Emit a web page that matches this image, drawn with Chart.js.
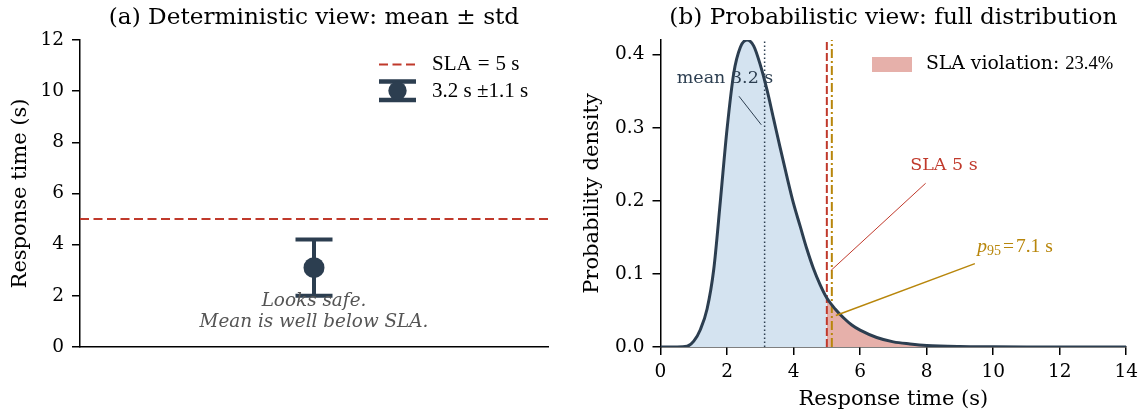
<!DOCTYPE html>
<html>
<head>
<meta charset="utf-8">
<script src="https://cdn.jsdelivr.net/npm/chart.js@4.4.0/dist/chart.umd.min.js"></script>
<style>
  html, body { margin: 0; padding: 0; background: #fff; }
  #wrap { position: relative; width: 1144px; height: 414px; }
  canvas { position: absolute; top: 0; }
  #left { left: 0; }
  #right { left: 572px; }
</style>
</head>
<body>
<div id="wrap">
  <canvas id="left" width="572" height="414"></canvas>
  <canvas id="right" width="572" height="414"></canvas>
</div>
<script>
// --- data: left panel (mean +- std)
const slaSeconds = 5;
const pointMean = 3.1;
const pointLow = 2.0;
const pointHigh = 4.2;
const leftTicks = [0, 2, 4, 6, 8, 10, 12];

// --- data: right panel (density)
const densX = [0, 0.5, 0.8, 1.0, 1.2, 1.4, 1.6, 1.8, 2.0, 2.2, 2.4, 2.6, 2.8, 3.0, 3.2, 3.4, 3.6, 3.8, 4.0, 4.2, 4.4, 4.6, 4.8, 5.0, 5.25, 5.5, 5.75, 6.0, 6.5, 7.0, 7.5, 8.0, 9.0, 10.0, 11.0, 12.0, 13.0, 14.0];
const densY = [0, 0, 0.001, 0.008, 0.024, 0.052, 0.106, 0.200, 0.298, 0.374, 0.410, 0.420, 0.412, 0.386, 0.352, 0.312, 0.272, 0.233, 0.196, 0.165, 0.134, 0.107, 0.085, 0.067, 0.052, 0.040, 0.030, 0.023, 0.013, 0.007, 0.0042, 0.0022, 0.0007, 0.0003, 0.0001, 0, 0, 0];
const meanX = 3.13;
const p95X = 5.15;
const xTicks = [0, 2, 4, 6, 8, 10, 12, 14];
const yTicks = [0, 0.1, 0.2, 0.3, 0.4];
const violationPct = 23.4;

const FONT = "'DejaVu Serif', serif";
const MATH = "'Liberation Serif', serif";
const NAVY = '#2c3e50';
const RED = '#c0392b';
const GOLD = '#b8860b';
const TICK = 18.5;
const LABEL = 21;

// matplotlib-like title, centred over the plot area
const axesTitle = {
  id: 'axesTitle',
  afterDraw(chart, args, opts) {
    const { ctx, chartArea } = chart;
    ctx.save();
    ctx.fillStyle = '#000';
    ctx.font = '23.2px ' + FONT;
    ctx.textAlign = 'center';
    ctx.textBaseline = 'middle';
    ctx.fillText(opts.text, (chartArea.left + chartArea.right) / 2, 18);
    ctx.restore();
  }
};

// error bar drawn with the chart's own scales
const errorBarPlugin = {
  id: 'errorBar',
  beforeDatasetsDraw(chart) {
    const { ctx, scales: { x, y } } = chart;
    const px = x.getPixelForValue(0);
    const lo = y.getPixelForValue(pointLow), hi = y.getPixelForValue(pointHigh);
    ctx.save();
    ctx.strokeStyle = NAVY;
    ctx.lineWidth = 4;
    ctx.beginPath();
    ctx.moveTo(px, lo); ctx.lineTo(px, hi);
    ctx.moveTo(px - 18.5, lo); ctx.lineTo(px + 18.5, lo);
    ctx.moveTo(px - 18.5, hi); ctx.lineTo(px + 18.5, hi);
    ctx.stroke();
    ctx.restore();
  }
};

const leftNotes = {
  id: 'leftNotes',
  afterDraw(chart) {
    const { ctx, chartArea, scales: { x } } = chart;
    ctx.save();
    // italic note
    ctx.fillStyle = '#555';
    ctx.font = 'italic 18.4px ' + FONT;
    ctx.textAlign = 'center';
    ctx.textBaseline = 'middle';
    const cx = x.getPixelForValue(0);
    ctx.fillText('Looks safe.', cx, 301);
    ctx.fillText('Mean is well below SLA.', cx, 322);

    // legend
    const lx = chartArea.right - 169;
    ctx.strokeStyle = RED;
    ctx.lineWidth = 2;
    ctx.setLineDash([9, 4.5]);
    ctx.beginPath(); ctx.moveTo(lx, 64.5); ctx.lineTo(lx + 37, 64.5); ctx.stroke();
    ctx.setLineDash([]);
    ctx.strokeStyle = NAVY;
    ctx.lineWidth = 4.5;
    ctx.beginPath();
    ctx.moveTo(lx, 81.5); ctx.lineTo(lx + 37, 81.5);
    ctx.moveTo(lx, 100); ctx.lineTo(lx + 37, 100);
    ctx.moveTo(lx + 18.5, 81.5); ctx.lineTo(lx + 18.5, 100);
    ctx.stroke();
    ctx.fillStyle = NAVY;
    ctx.beginPath(); ctx.arc(lx + 18.5, 90.7, 9.2, 0, Math.PI * 2); ctx.fill();

    ctx.fillStyle = '#000';
    ctx.textAlign = 'left';
    ctx.font = '21px ' + MATH;
    let tx = lx + 53;
    ctx.fillText('SLA', tx, 64.5); tx += ctx.measureText('SLA').width + 6;
    ctx.fillText('=', tx, 64.5); tx += ctx.measureText('=').width + 6;
    ctx.fillText('5 s', tx, 64.5);
    ctx.fillText('3.2 s \u00b11.1 s', lx + 53, 91);
    ctx.restore();
  }
};

new Chart(document.getElementById('left'), {
  type: 'line',
  data: {
    datasets: [
      {
        data: [{ x: -1, y: slaSeconds }, { x: 1, y: slaSeconds }],
        borderColor: RED, borderWidth: 2, borderDash: [9, 4.5], pointRadius: 0
      },
      {
        data: [{ x: 0, y: pointMean }],
        showLine: false, pointRadius: 10.5, pointBackgroundColor: NAVY, pointBorderWidth: 0
      }
    ]
  },
  options: {
    responsive: false, animation: false, events: [],
    layout: { padding: { left: 0, right: 24, top: 40, bottom: 0 } },
    plugins: {
      legend: { display: false }, tooltip: { enabled: false }, title: { display: false },
      axesTitle: { text: '(a) Deterministic view: mean \u00b1 std' }
    },
    scales: {
      x: {
        type: 'linear', min: -1, max: 1,
        ticks: { display: false }, grid: { display: false },
        border: { display: true, color: '#000', width: 1.5 },
        afterFit: s => { s.height = 67; }
      },
      y: {
        min: 0, max: 12,
        afterBuildTicks: s => { s.ticks = leftTicks.map(v => ({ value: v })); },
        ticks: { font: { family: FONT, size: TICK }, color: '#000', padding: 8 },
        grid: { drawOnChartArea: false, color: '#000', lineWidth: 1.5, tickLength: 8 },
        border: { color: '#000', width: 1.5 },
        title: { display: true, text: 'Response time (s)', color: '#000', font: { family: FONT, size: LABEL }, padding: { top: 8, bottom: 0 } },
        afterFit: s => { s.width = 80; }
      }
    }
  },
  plugins: [axesTitle, errorBarPlugin, leftNotes]
});

// right panel
const pts = densX.map((x, i) => ({ x: x, y: densY[i] }));
const yTop = 0.42;

const rightNotes = {
  id: 'rightNotes',
  afterDatasetDraw(chart, args) {
    if (args.index !== 0) return;
    const { ctx, scales: { x, y } } = chart;
    ctx.save();
    ctx.fillStyle = NAVY;
    ctx.font = '17.5px ' + FONT;
    ctx.textAlign = 'center';
    ctx.textBaseline = 'middle';
    ctx.fillText('mean 3.2 s', x.getPixelForValue(1.94), y.getPixelForValue(0.367));
    ctx.strokeStyle = NAVY;
    ctx.lineWidth = 1;
    ctx.beginPath();
    ctx.moveTo(x.getPixelForValue(2.36), y.getPixelForValue(0.343));
    ctx.lineTo(x.getPixelForValue(3.03), y.getPixelForValue(0.304));
    ctx.stroke();
    ctx.restore();
  },
  afterDatasetsDraw(chart) {
    const { ctx, scales: { x, y } } = chart;
    ctx.save();
    ctx.textBaseline = 'middle';
    // SLA label
    ctx.strokeStyle = RED;
    ctx.lineWidth = 1;
    ctx.beginPath();
    ctx.moveTo(x.getPixelForValue(7.97), y.getPixelForValue(0.224));
    ctx.lineTo(x.getPixelForValue(5.13), y.getPixelForValue(0.105));
    ctx.stroke();
    ctx.fillStyle = RED;
    ctx.font = '17.5px ' + FONT;
    ctx.textAlign = 'center';
    ctx.fillText('SLA 5 s', x.getPixelForValue(8.52), y.getPixelForValue(0.248));
    // p95 label
    ctx.strokeStyle = GOLD;
    ctx.lineWidth = 1.5;
    ctx.beginPath();
    ctx.moveTo(x.getPixelForValue(9.45), y.getPixelForValue(0.114));
    ctx.lineTo(x.getPixelForValue(5.27), y.getPixelForValue(0.043));
    ctx.stroke();
    ctx.fillStyle = GOLD;
    ctx.textAlign = 'left';
    ctx.textBaseline = 'alphabetic';
    let tx = x.getPixelForValue(9.52);
    const ty = 251.7;
    ctx.font = 'italic 19.5px ' + MATH;
    ctx.fillText('p', tx, ty); tx += ctx.measureText('p').width;
    ctx.font = '14px ' + MATH;
    ctx.fillText('95', tx, ty + 3); tx += ctx.measureText('95').width + 2;
    ctx.font = '19.5px ' + MATH;
    ctx.fillText('=', tx, ty); tx += ctx.measureText('=').width + 2;
    ctx.fillText('7.1 s', tx, ty);

    // legend
    ctx.fillStyle = '#e6b0aa';
    ctx.fillRect(300, 57, 40, 15);
    ctx.fillStyle = '#000';
    ctx.textBaseline = 'middle';
    ctx.font = '18.8px ' + FONT;
    const lab = 'SLA violation: ';
    ctx.fillText(lab, 354, 64);
    const w = ctx.measureText(lab).width;
    ctx.font = '18.6px ' + MATH;
    ctx.fillText(violationPct.toFixed(1) + '%', 354 + w, 64);
    ctx.restore();
  }
};

new Chart(document.getElementById('right'), {
  type: 'line',
  data: {
    datasets: [
      {
        data: pts.filter(p => p.x <= slaSeconds), fill: 'origin', backgroundColor: '#d4e3f0',
        borderColor: 'transparent', borderWidth: 0, pointRadius: 0, cubicInterpolationMode: 'monotone', order: 6
      },
      {
        data: pts.filter(p => p.x >= slaSeconds), fill: 'origin', backgroundColor: '#e6b0aa',
        borderColor: 'transparent', borderWidth: 0, pointRadius: 0, cubicInterpolationMode: 'monotone', order: 5
      },
      {
        data: [{ x: meanX, y: 0 }, { x: meanX, y: yTop }],
        borderColor: NAVY, borderWidth: 1.5, borderDash: [1.5, 2.5], pointRadius: 0, order: 4
      },
      {
        data: [{ x: slaSeconds, y: 0 }, { x: slaSeconds, y: yTop }],
        borderColor: RED, borderWidth: 2, borderDash: [8, 3], pointRadius: 0, order: 3
      },
      {
        data: [{ x: p95X, y: 0 }, { x: p95X, y: yTop }],
        borderColor: GOLD, borderWidth: 2, borderDash: [9, 3, 2, 3], pointRadius: 0, order: 2
      },
      {
        data: pts, fill: false, borderColor: NAVY, borderWidth: 3, pointRadius: 0,
        cubicInterpolationMode: 'monotone', order: 1
      }
    ]
  },
  options: {
    responsive: false, animation: false, events: [],
    layout: { padding: { left: 0, right: 16, top: 40, bottom: 0 } },
    plugins: {
      legend: { display: false }, tooltip: { enabled: false }, title: { display: false },
      axesTitle: { text: '(b) Probabilistic view: full distribution' }
    },
    scales: {
      x: {
        type: 'linear', min: 0, max: 14,
        afterBuildTicks: s => { s.ticks = xTicks.map(v => ({ value: v })); },
        ticks: { font: { family: FONT, size: TICK }, color: '#000', padding: 6, maxRotation: 0 },
        grid: { drawOnChartArea: false, color: '#000', lineWidth: 1.5, tickLength: 8 },
        border: { color: '#000', width: 1.5 },
        title: { display: true, text: 'Response time (s)', color: '#000', font: { family: FONT, size: LABEL }, padding: { top: 0, bottom: 1.4 } },
        afterFit: s => { s.height = 67; }
      },
      y: {
        min: 0, max: yTop,
        afterBuildTicks: s => { s.ticks = yTicks.map(v => ({ value: v })); },
        ticks: { font: { family: FONT, size: TICK }, color: '#000', padding: 8, callback: v => v.toFixed(1) },
        grid: { drawOnChartArea: false, color: '#000', lineWidth: 1.5, tickLength: 8 },
        border: { color: '#000', width: 1.5 },
        title: { display: true, text: 'Probability density', color: '#000', font: { family: FONT, size: LABEL }, padding: { top: 8.4, bottom: 0 } },
        afterFit: s => { s.width = 88.5; }
      }
    }
  },
  plugins: [axesTitle, rightNotes]
});
</script>
</body>
</html>
